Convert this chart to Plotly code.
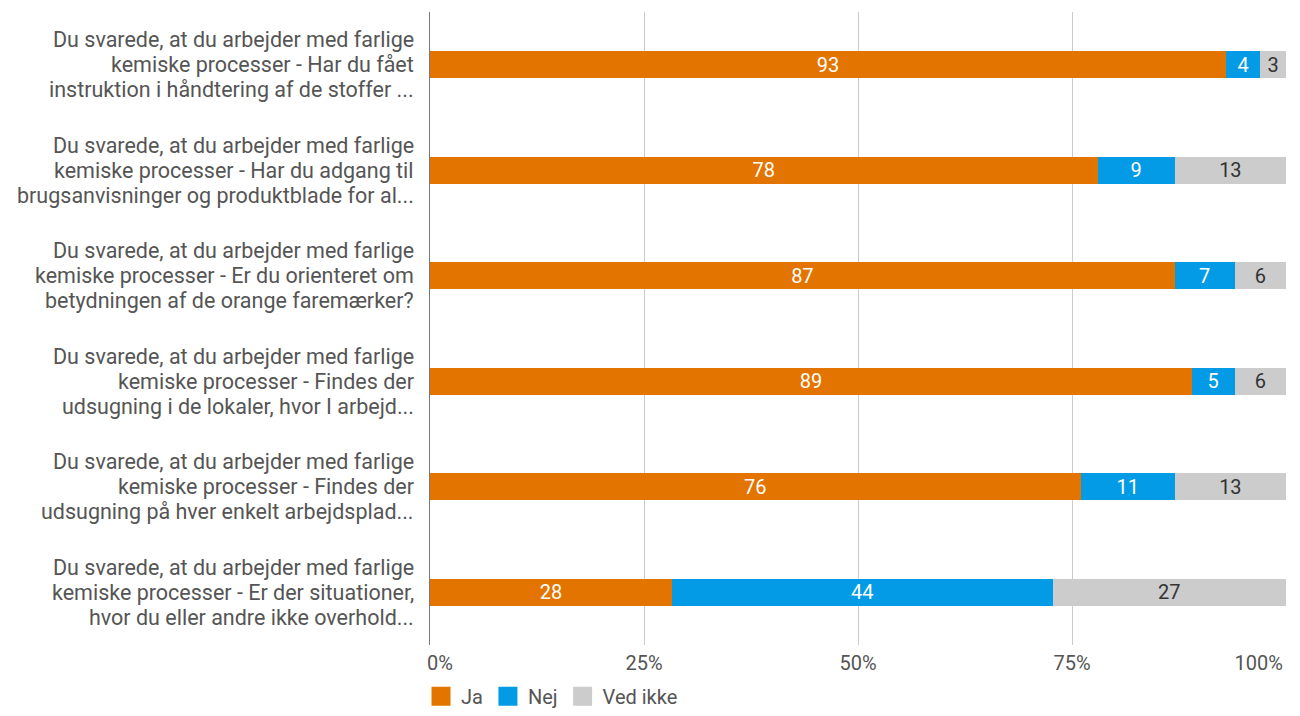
import plotly.graph_objects as go

categories = [
    "Du svarede, at du arbejder med farlige<br>kemiske processer - Har du fået<br>instruktion i håndtering af de stoffer ...",
    "Du svarede, at du arbejder med farlige<br>kemiske processer - Har du adgang til<br>brugsanvisninger og produktblade for al...",
    "Du svarede, at du arbejder med farlige<br>kemiske processer - Er du orienteret om<br>betydningen af de orange faremærker?",
    "Du svarede, at du arbejder med farlige<br>kemiske processer - Findes der<br>udsugning i de lokaler, hvor I arbejd...",
    "Du svarede, at du arbejder med farlige<br>kemiske processer - Findes der<br>udsugning på hver enkelt arbejdsplad...",
    "Du svarede, at du arbejder med farlige<br>kemiske processer - Er der situationer,<br>hvor du eller andre ikke overhold...",
]
ja = [93, 78, 87, 89, 76, 28]
nej = [4, 9, 7, 5, 11, 44]
ved_ikke = [3, 13, 6, 6, 13, 27]
x_ticks = [0, 25, 50, 75, 100]
x_tick_labels = ["0%", "25%", "50%", "75%", "100%"]

series = [
    ("Ja", ja, "#e37400", "white"),
    ("Nej", nej, "#039be5", "white"),
    ("Ved ikke", ved_ikke, "#cccccc", "#333333"),
]

FONT = "Roboto"
TXT = "#555555"
NB = "\u00a0"

fig = go.Figure()
for name, vals, color, tcolor in series:
    fig.add_trace(go.Bar(
        name=name, y=categories, x=vals, orientation="h",
        marker=dict(color=color, line=dict(width=0)),
        text=[str(v) for v in vals], texttemplate="%{text}",
        textposition="inside", insidetextanchor="middle", textangle=0,
        constraintext="none",
        textfont=dict(color=tcolor, size=20, family=FONT),
        hoverinfo="skip", showlegend=False,
    ))
# legend entries with larger square swatches
for name, vals, color, tcolor in series:
    fig.add_trace(go.Scatter(
        name=name, x=[None], y=[None], mode="markers",
        marker=dict(symbol="square", size=16, color=color,
                    line=dict(color=color, width=3)),
        showlegend=True, hoverinfo="skip",
    ))

# category labels, one annotation per line (tight line spacing)
for cat in categories:
    lines = cat.split("<br>")
    n = len(lines)
    for i, line in enumerate(lines):
        fig.add_annotation(
            x=0, xref="paper", xanchor="right", xshift=-14,
            y=cat, yref="y", yanchor="middle", yshift=((n - 1) / 2 - i) * 25,
            text=line, showarrow=False,
            font=dict(family=FONT, size=21.5, color=TXT),
        )

# edge tick labels are pulled inward like the original
tick_text = list(x_tick_labels)
tick_text[0] = NB * 4 + tick_text[0]
tick_text[-1] = tick_text[-1] + NB * 11

fig.update_layout(
    barmode="stack", barnorm="percent", bargap=0.744,
    width=1284, height=700,
    margin=dict(l=422, r=6, t=4, b=63, autoexpand=False),
    paper_bgcolor="white", plot_bgcolor="white",
    font=dict(family=FONT, size=20, color=TXT),
    showlegend=True,
    legend=dict(orientation="h", x=-0.0105, xanchor="left", y=-0.081, yanchor="middle",
                font=dict(size=20, color=TXT, family=FONT), traceorder="normal",
                itemwidth=30, bgcolor="rgba(0,0,0,0)"),
    xaxis=dict(range=[0, 100], tickvals=x_ticks, ticktext=tick_text,
               showgrid=True, gridcolor="#cccccc", gridwidth=1, zeroline=False,
               showline=False, ticks="", ticklabelstandoff=4,
               ticklabeloverflow="allow", automargin=False,
               tickfont=dict(size=20, color=TXT, family=FONT)),
    yaxis=dict(autorange="reversed", showline=True, linecolor="#777777", linewidth=1,
               ticks="", showticklabels=False, showgrid=False, automargin=False),
)

fig.write_html("out.html")
